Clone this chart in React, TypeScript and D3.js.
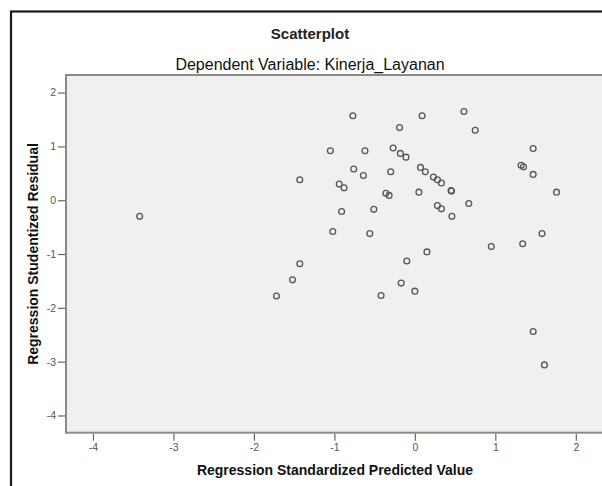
import React, { useEffect, useRef } from 'react';
import * as d3 from 'd3';

// Regression standardized predicted values (x) and studentized residuals (y)
const predicted = [
  -3.42, -0.77, -0.19, -1.05, -0.62, -0.27, -0.18, -0.11, -0.76, -0.64,
  -0.30, -1.43, -0.94, -0.88, -0.36, -0.32, -0.91, -0.51, -1.02, -0.56,
  0.09, 0.61, 0.75, 1.47, 1.32, 1.35, 1.47, 0.07, 0.13, 0.23,
  0.28, 0.33, 0.45, 0.455, 0.05, 1.76, 0.28, 0.33, 0.67, 0.46,
  1.58, 1.34, 0.95, 0.15, -0.10, -0.17, 0.00, 1.47, 1.61, -1.43,
  -1.52, -1.72, -0.42,
];
const residuals = [
  -0.30, 1.57, 1.35, 0.92, 0.92, 0.97, 0.87, 0.80, 0.58, 0.46,
  0.53, 0.38, 0.30, 0.23, 0.13, 0.09, -0.21, -0.17, -0.58, -0.62,
  1.57, 1.65, 1.30, 0.96, 0.65, 0.62, 0.48, 0.61, 0.53, 0.43,
  0.38, 0.32, 0.18, 0.17, 0.15, 0.15, -0.10, -0.16, -0.06, -0.30,
  -0.62, -0.81, -0.86, -0.96, -1.13, -1.54, -1.69, -2.44, -3.06, -1.18,
  -1.48, -1.78, -1.77,
];
const xTicks = [-4, -3, -2, -1, 0, 1, 2];
const yTicks = [2, 1, 0, -1, -2, -3, -4];

const title = 'Scatterplot';
const subtitle = 'Dependent Variable: Kinerja_Layanan';
const xTitle = 'Regression Standardized Predicted Value';
const yTitle = 'Regression Studentized Residual';

const W = 602;
const H = 486;
const FONT = '"Liberation Sans", Arial, sans-serif';

const App = () => {
  const svgRef = useRef(null);

  useEffect(() => {
    const svg = d3.select(svgRef.current);
    svg.selectAll('*').remove();

    const left = 66, top = 75, bottom = 432.7, right = 608;
    const x = d3.scaleLinear().domain([-4.335, 2.4]).range([left, right]);
    const y = d3.scaleLinear().domain([-4.32, 2.327]).range([bottom, top]);

    svg.append('rect').attr('width', W).attr('height', H).attr('fill', '#fff');

    // outer frame
    svg.append('rect')
      .attr('x', 11).attr('y', 11.5)
      .attr('width', 620).attr('height', 500)
      .attr('fill', 'none').attr('stroke', '#1a1a1a').attr('stroke-width', 2.2);

    // titles
    svg.append('text')
      .text(title)
      .attr('x', 310).attr('y', 39)
      .attr('text-anchor', 'middle')
      .attr('font-family', FONT).attr('font-size', '15px').attr('font-weight', 'bold')
      .attr('fill', '#222');
    svg.append('text')
      .text(subtitle)
      .attr('x', 310).attr('y', 69.5)
      .attr('text-anchor', 'middle')
      .attr('font-family', FONT).attr('font-size', '16px')
      .attr('fill', '#111');

    // plot area
    svg.append('rect')
      .attr('x', left).attr('y', top)
      .attr('width', right - left).attr('height', bottom - top)
      .attr('fill', '#f0f0f0').attr('stroke', '#8a8a8a').attr('stroke-width', 2);

    // axes (plain hyphen for negative labels, as in the original)
    const fmt = (d: any) => String(d);
    const gx = svg.append('g')
      .attr('transform', `translate(0,${bottom + 1})`)
      .call(d3.axisBottom(x).tickValues(xTicks).tickSize(7).tickPadding(3).tickFormat(fmt));
    const gy = svg.append('g')
      .attr('transform', `translate(${left - 1},0)`)
      .call(d3.axisLeft(y).tickValues(yTicks).tickSize(7).tickPadding(2).tickFormat(fmt));
    [gx, gy].forEach(g => {
      g.select('.domain').remove();
      g.selectAll('.tick line').attr('stroke', '#666').attr('stroke-width', 1.2);
      g.selectAll('.tick text')
        .attr('fill', '#555')
        .style('font-family', FONT)
        .style('font-size', '10.5px');
    });

    // axis titles
    svg.append('text')
      .text(xTitle)
      .attr('x', 335).attr('y', 475)
      .attr('text-anchor', 'middle')
      .attr('font-family', FONT).attr('font-size', '14px').attr('font-weight', 'bold')
      .attr('fill', '#111');
    svg.append('text')
      .text(yTitle)
      .attr('transform', `translate(38,254) rotate(-90)`)
      .attr('text-anchor', 'middle')
      .attr('font-family', FONT).attr('font-size', '14px').attr('font-weight', 'bold')
      .attr('fill', '#111');

    // points
    const points = predicted.map((p, i) => [p, residuals[i]]);
    svg.append('g')
      .selectAll('circle')
      .data(points)
      .join('circle')
      .attr('cx', d => x(d[0]))
      .attr('cy', d => y(d[1]))
      .attr('r', 2.9)
      .attr('fill', 'none')
      .attr('stroke', '#555')
      .attr('stroke-width', 1.3);
  }, []);

  return (
    <svg
      ref={svgRef}
      width={W}
      height={H}
      viewBox={`0 0 ${W} ${H}`}
      style={{ position: 'absolute', left: 0, top: 0 }}
    />
  );
};

export default App;
